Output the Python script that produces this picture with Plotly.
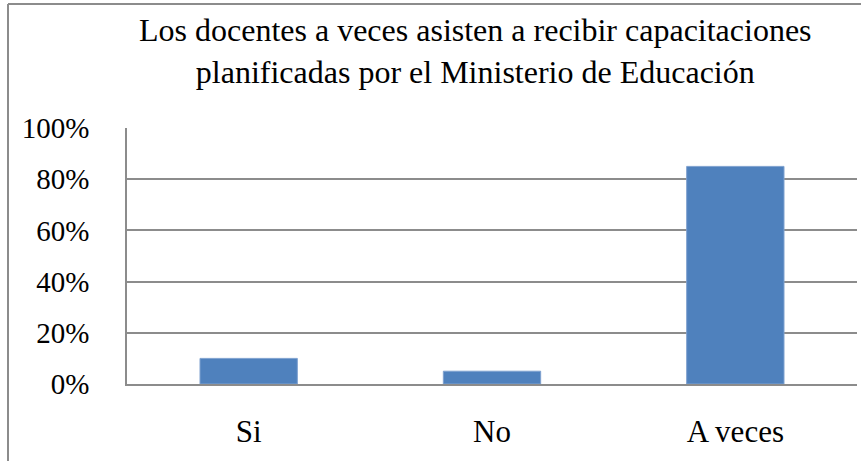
import plotly.graph_objects as go

categories = ["Si", "No", "A veces"]
values = [0.10, 0.05, 0.85]
tick_vals = [0, 0.2, 0.4, 0.6, 0.8, 1.0]
tick_text = ["0%", "20%", "40%", "60%", "80%", "100%"]
title = ("Los docentes a veces asisten a recibir capacitaciones<br>"
         "planificadas por el Ministerio de Educación")

W, H = 861, 461
L, R, T, B = 127, 4, 128, 77
pw, ph = W - L - R, H - T - B
SERIF = "Times New Roman, Liberation Serif, DejaVu Serif, serif"


def px_x(x):
    return (x - L) / pw


def px_y(y):
    return (H - B - y) / ph


fig = go.Figure(go.Bar(
    x=categories,
    y=values,
    marker=dict(color="#4F81BD", line=dict(color="#7FA1CF", width=1)),
))

fig.update_layout(
    width=W, height=H,
    margin=dict(l=L, r=R, t=T, b=B),
    paper_bgcolor="white",
    plot_bgcolor="white",
    bargap=0.6,
    showlegend=False,
    font=dict(family=SERIF, color="black", size=29),
    annotations=[dict(
        text=title, xref="paper", yref="paper",
        x=px_x(475), y=px_y(51), xanchor="center", yanchor="middle",
        showarrow=False, font=dict(size=32, family=SERIF),
    )],
    shapes=[
        dict(type="line", xref="paper", yref="paper",
             x0=px_x(8), x1=px_x(900), y0=px_y(4), y1=px_y(4),
             line=dict(color="#8C8C8C", width=2)),
        dict(type="line", xref="paper", yref="paper",
             x0=px_x(8), x1=px_x(8), y0=px_y(4), y1=px_y(500),
             line=dict(color="#8C8C8C", width=2)),
    ],
)

fig.update_yaxes(
    range=[0, 1], tickvals=tick_vals, ticktext=tick_text,
    showgrid=True, gridcolor="#8C8C8C", gridwidth=1.5,
    showline=True, linecolor="#8C8C8C", linewidth=1.5,
    ticks="", ticklen=0, ticklabelstandoff=30,
    zeroline=False,
)
fig.update_xaxes(
    showline=True, linecolor="#8C8C8C", linewidth=1.5,
    ticks="", ticklabelstandoff=19, tickfont=dict(size=31),
)

fig.write_html("out.html", config={"displayModeBar": False},
               post_script="document.body.style.margin='0';")
